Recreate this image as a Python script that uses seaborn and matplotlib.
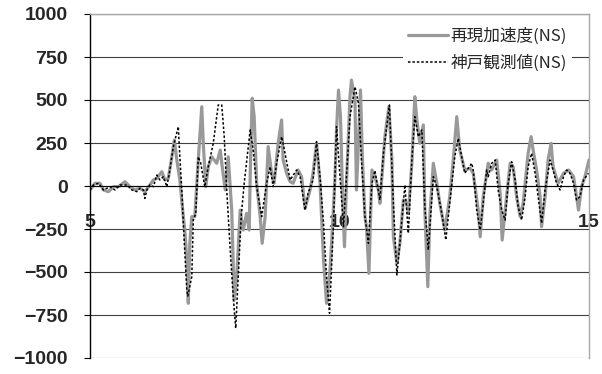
import matplotlib
matplotlib.use("Agg")
import matplotlib.pyplot as plt
import pandas as pd
import seaborn as sns

# 再現加速度(NS): time [s], acceleration [gal]
sim_t = [5.00, 5.10, 5.20, 5.27, 5.37, 5.47, 5.57, 5.70, 5.80, 5.90, 6.00, 6.10,
         6.20, 6.27, 6.34, 6.44, 6.50, 6.57, 6.64, 6.69, 6.74, 6.80, 6.87, 6.90,
         6.94, 6.97, 7.00, 7.04, 7.10, 7.17, 7.24, 7.27, 7.32, 7.37, 7.44, 7.54,
         7.61, 7.65, 7.71, 7.77, 7.84, 7.89, 7.94, 8.01, 8.07, 8.14, 8.19, 8.21,
         8.25, 8.29, 8.34, 8.41, 8.45, 8.51, 8.57, 8.64, 8.69, 8.77, 8.84, 8.87,
         8.94, 9.01, 9.07, 9.17, 9.24, 9.31, 9.41, 9.47, 9.54, 9.61, 9.68, 9.74,
         9.81, 9.86, 9.91, 9.94, 9.98, 10.02, 10.06, 10.10, 10.14, 10.21, 10.24,
         10.31, 10.34, 10.38, 10.42, 10.46, 10.51, 10.54, 10.59, 10.65, 10.71,
         10.78, 10.81, 10.86, 10.91, 10.99, 11.05, 11.08, 11.15, 11.21, 11.28,
         11.35, 11.38, 11.45, 11.51, 11.55, 11.61, 11.68, 11.71, 11.77, 11.81,
         11.88, 11.95, 12.01, 12.11, 12.21, 12.28, 12.35, 12.41, 12.51, 12.62,
         12.68, 12.78, 12.82, 12.88, 12.98, 13.05, 13.15, 13.22, 13.26, 13.32,
         13.42, 13.48, 13.55, 13.62, 13.68, 13.78, 13.84, 13.88, 13.95, 14.02,
         14.05, 14.12, 14.18, 14.24, 14.28, 14.38, 14.49, 14.59, 14.69, 14.79,
         14.85, 14.92, 15.00]
sim_a = [-23, 16, 16, -23, -33, -4, -4, 25, -4, -23, -13, -33,
         6, 35, 45, 83, 35, 45, 170, 267, 151, 35, -178, -256,
         -430, -682, -333, -178, -178, 151, 461, 248, -4, 112, 170, 132,
         209, 112, -23, 170, -140, -663, -527, -140, -256, -159, -256, 54,
         510, 403, 16, -178, -333, -178, 229, 74, 16, 248, 384, 151,
         74, 25, 16, 93, 54, -130, -23, 74, 248, 16, -430, -682,
         -488, -237, 54, 326, 558, 403, -42, -353, 16, 519, 616,
         500, -23, 248, 558, 151, -178, -237, -508, 93, 54,
         -23, -101, 93, 287, 461, 151, -295, -449, -333, -81,
         -101, -159, 132, 519, 384, 248, 355, -140, -585, -178,
         132, 16, -101, -256, -62, 151, 403, 209, 93, 103,
         74, -140, -295, -62, 132, 93, 151, -42, -314, -140,
         132, 112, -62, -178, -101, 190, 287, 209, 93, -62,
         -237, -62, 151, 248, 112, 16, 74, 93, 54, -140,
         -4, 54, 151]

# 神戸観測値(NS): time [s], acceleration [gal]
obs_t = [5.00, 5.07, 5.17, 5.27, 5.40, 5.50, 5.60, 5.74, 5.84, 5.94, 6.00, 6.07,
         6.10, 6.14, 6.20, 6.27, 6.34, 6.40, 6.47, 6.54, 6.60, 6.67, 6.77, 6.80,
         6.84, 6.87, 6.94, 6.96, 7.04, 7.07, 7.12, 7.17, 7.22, 7.30, 7.37, 7.47,
         7.57, 7.64, 7.69, 7.74, 7.81, 7.87, 7.92, 7.97, 8.03, 8.09, 8.21, 8.27,
         8.34, 8.44, 8.54, 8.61, 8.67, 8.74, 8.84, 8.87, 9.01, 9.14, 9.21, 9.31,
         9.37, 9.47, 9.54, 9.61, 9.68, 9.74, 9.80, 9.88, 9.94, 10.01, 10.08,
         10.14, 10.21, 10.31, 10.38, 10.44, 10.51, 10.58, 10.65, 10.71, 10.81,
         10.88, 11.00, 11.08, 11.15, 11.21, 11.31, 11.38, 11.45, 11.51, 11.58,
         11.65, 11.71, 11.78, 11.88, 11.95, 12.05, 12.13, 12.21, 12.31, 12.38,
         12.45, 12.51, 12.65, 12.68, 12.75, 12.82, 12.88, 12.95, 12.98, 13.05,
         13.12, 13.18, 13.25, 13.32, 13.38, 13.45, 13.52, 13.58, 13.65, 13.72,
         13.78, 13.85, 13.92, 13.98, 14.05, 14.12, 14.22, 14.28, 14.35, 14.42,
         14.49, 14.55, 14.62, 14.69, 14.75, 14.82, 14.89, 14.99]
obs_a = [-23, 6, 16, -23, -4, -23, 6, 6, -23, -33, -13, -23,
         -72, -23, 6, -4, 64, 35, 54, -4, 93, 229, 345, 170,
         -23, -217, -605, -640, -527, -198, -159, 170, 132, -4, 112, 248,
         471, 471, 287, -23, -372, -643, -827, -527, -178, 16, 326, 209,
         -4, -178, 16, 112, -4, 132, 287, 248, 35, 93, 54, -140,
         -42, 35, 258, 54, -217, -527, -740, -217, 345, 54, -237,
         54, 403, 577, 481, 151, -178, -333, 16, 90, -81,
         190, 471, -101, -517, -333, 6, -275, 151, 403, 287,
         326, -120, -372, 54, -4, -159, -314, -101, 170, 277,
         170, 74, 132, 93, -140, -256, -101, 93, 54, 132,
         151, -23, -140, -198, 16, 141, 35, -120, -198, -62,
         112, 190, 74, -62, -217, -23, 151, 93, 16, -23,
         54, 93, 74, 16, -81, -62, 35, 74]

series_labels = ["再現加速度(NS)", "神戸観測値(NS)"]
x_ticks = [5, 10, 15]
y_ticks = [-1000, -750, -500, -250, 0, 250, 500, 750, 1000]

sns.set_style("white")
plt.rcParams["font.family"] = ["Noto Sans CJK JP", "DejaVu Sans"]

sim_df = pd.DataFrame({"t": sim_t, "a": sim_a})
obs_df = pd.DataFrame({"t": obs_t, "a": obs_a})

fig = plt.figure(figsize=(6.02, 3.74), dpi=100)
ax = fig.add_axes([90 / 602, 1 - 358 / 374, 499 / 602, 344 / 374])

sns.lineplot(data=sim_df, x="t", y="a", ax=ax, estimator=None, sort=False,
             color="#999999", linewidth=2.3, label=series_labels[0])
sns.lineplot(data=obs_df, x="t", y="a", ax=ax, estimator=None, sort=False,
             color="black", linewidth=1.1, linestyle=(0, (1.6, 1.3)),
             label=series_labels[1])

ax.set_xlim(5, 15)
ax.set_ylim(-1000, 1000)
ax.set_xticks(x_ticks)
ax.set_yticks(y_ticks)
ax.set_xlabel("")
ax.set_ylabel("")

ax.set_axisbelow(True)
ax.yaxis.grid(True, color="#404040", linewidth=0.8)
ax.xaxis.grid(False)

# category axis crosses the value axis at zero
ax.spines["bottom"].set_position(("data", 0))
ax.spines["bottom"].set_color("black")
ax.spines["bottom"].set_linewidth(0.8)
ax.spines["left"].set_color("black")
ax.spines["left"].set_linewidth(1.0)
for side in ("top", "right"):
    ax.spines[side].set_color("#a6a6a6")
    ax.spines[side].set_linewidth(1.0)

ax.tick_params(axis="y", which="major", direction="out", length=4, width=0.8,
               color="black", pad=12, left=True, right=False)
ax.tick_params(axis="x", which="major", length=0, pad=20, bottom=True)

for lab in ax.get_yticklabels() + ax.get_xticklabels():
    lab.set_fontfamily("Liberation Sans")
    lab.set_fontweight("bold")
    lab.set_fontsize(14)

leg = ax.legend(loc="upper right", bbox_to_anchor=(0.966, 0.975),
                frameon=True, fancybox=False, framealpha=1.0,
                facecolor="white", edgecolor="none",
                fontsize=12, handlelength=2.4, handletextpad=0.15,
                labelspacing=0.62, borderpad=0.3, borderaxespad=0.0)
leg.set_zorder(5)

fig.savefig("out.png", dpi=100, facecolor="white")
